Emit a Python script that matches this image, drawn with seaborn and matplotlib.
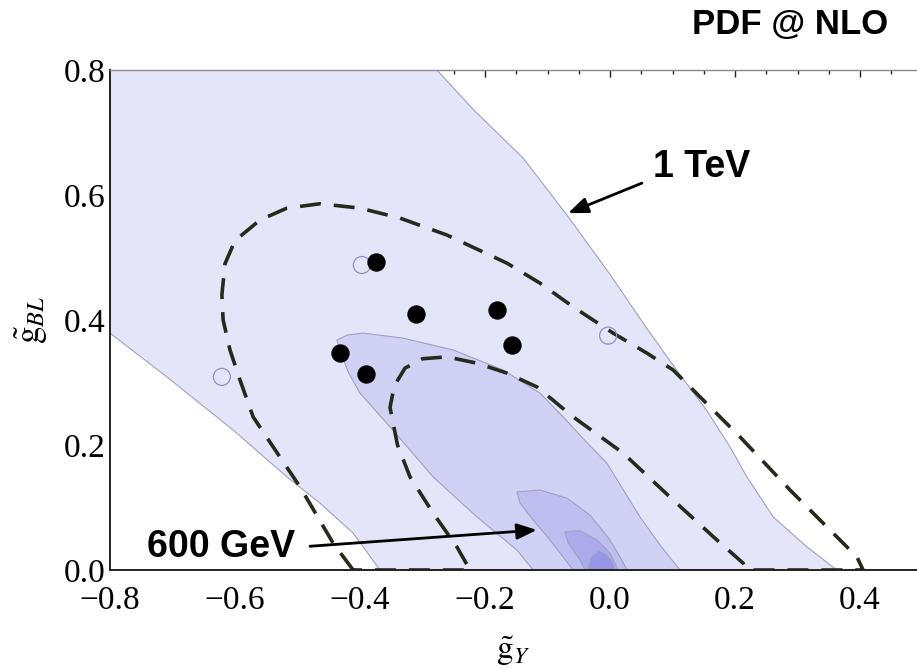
import numpy as np
import pandas as pd
import matplotlib
matplotlib.use('Agg')
import matplotlib.pyplot as plt
from matplotlib.ticker import MultipleLocator
import seaborn as sns

# ---------------- data ----------------
# outermost filled contour (1 TeV reach)
region1_x = [-0.8, -0.709, -0.603, -0.517, -0.464, -0.411, -0.368,
             0.363, 0.315, 0.261, 0.219, 0.192, 0.155, 0.105, 0.06, 0.0,
             -0.069, -0.139, -0.219, -0.277, -0.8]
region1_y = [0.379, 0.309, 0.224, 0.149, 0.107, 0.059, 0.0,
             0.0, 0.037, 0.085, 0.149, 0.197, 0.255, 0.322, 0.385, 0.473,
             0.568, 0.659, 0.737, 0.8, 0.8]
# second filled contour
region2_x = [-0.437, -0.42, -0.395, -0.331, -0.251, -0.171, -0.112, -0.075, -0.04,
             -0.005, 0.048, 0.08, 0.112, -0.123, -0.149, -0.213, -0.283, -0.352,
             -0.40, -0.418, -0.43]
region2_y = [0.368, 0.376, 0.379, 0.371, 0.352, 0.32, 0.283, 0.245, 0.207,
             0.171, 0.085, 0.04, 0.0, 0.0, 0.032, 0.085, 0.149, 0.229,
             0.283, 0.315, 0.345]
# third filled contour (600 GeV)
region3_x = [-0.149, -0.112, -0.069, -0.032, 0.0, 0.019, 0.027, -0.059, -0.096, -0.123, -0.144]
region3_y = [0.125, 0.128, 0.115, 0.088, 0.048, 0.016, 0.0, 0.0, 0.048, 0.08, 0.107]
# fourth filled contour
region4_x = [-0.072, -0.048, -0.021, 0.0, 0.013, -0.04, -0.048, -0.067]
region4_y = [0.061, 0.063, 0.048, 0.027, 0.0, 0.0, 0.016, 0.043]
# innermost filled contour
region5_x = [-0.035, -0.03, -0.018, -0.006, 0.004, 0.008]
region5_y = [0.0, 0.02, 0.03, 0.025, 0.012, 0.0]

# dashed contour band (outer edge then inner edge)
dash_outer_x = [-0.411, -0.443, -0.496, -0.539, -0.571, -0.592, -0.608, -0.619, -0.621,
                -0.616, -0.600, -0.56, -0.517, -0.464, -0.40, -0.336, -0.261, -0.165,
                -0.112, -0.059, 0.005, 0.059, 0.101, 0.128, 0.208, 0.288, 0.395, 0.405]
dash_outer_y = [0.0, 0.043, 0.133, 0.197, 0.245, 0.304, 0.352, 0.40, 0.44,
                0.49, 0.527, 0.56, 0.579, 0.586, 0.579, 0.563, 0.536, 0.491,
                0.459, 0.421, 0.379, 0.347, 0.32, 0.293, 0.213, 0.128, 0.021, 0.0]
dash_inner_x = [0.219, 0.213, 0.171, 0.101, 0.021, -0.059, -0.117, -0.165, -0.213,
                -0.261, -0.300, -0.328, -0.345, -0.352, -0.34, -0.32, -0.283, -0.245, -0.224]
dash_inner_y = [0.0, 0.011, 0.048, 0.112, 0.187, 0.245, 0.293, 0.315, 0.331,
                0.341, 0.338, 0.323, 0.295, 0.26, 0.2, 0.149, 0.091, 0.037, 0.0]

# benchmark points
filled_x = [-0.374, -0.310, -0.181, -0.157, -0.432, -0.390]
filled_y = [0.493, 0.410, 0.416, 0.360, 0.347, 0.314]
open_x = [-0.397, -0.003, -0.621]
open_y = [0.488, 0.375, 0.309]

x_ticks = [-0.8, -0.6, -0.4, -0.2, 0.0, 0.2, 0.4]
y_ticks = [0.0, 0.2, 0.4, 0.6, 0.8]
x_ticklabels = ['\u22120.8', '\u22120.6', '\u22120.4', '\u22120.2', '0.0', '0.2', '0.4']
y_ticklabels = ['0.0', '0.2', '0.4', '0.6', '0.8']

region_colors = ['#e5e5fa', '#d1d1f5', '#bebef0', '#ababec', '#9696e6']

# ---------------- figure ----------------
sns.set_theme(style='white')
plt.rcParams['font.family'] = ['Liberation Serif', 'DejaVu Serif']
plt.rcParams['mathtext.fontset'] = 'stix'
plt.rcParams['text.color'] = 'black'
plt.rcParams['axes.labelcolor'] = 'black'
plt.rcParams['xtick.color'] = 'black'
plt.rcParams['ytick.color'] = 'black'

fig = plt.figure(figsize=(9.17, 6.71), dpi=100)
ax = fig.add_axes([110/917, 101/671, 807/917, 500/671])
ax.set_facecolor('white')

edge = '#a0a0c0'
for rx, ry, c in zip([region1_x, region2_x, region3_x, region4_x, region5_x],
                     [region1_y, region2_y, region3_y, region4_y, region5_y],
                     region_colors):
    ax.fill(rx, ry, facecolor=c, edgecolor=edge, linewidth=0.8, zorder=1)

ring_x = dash_outer_x + dash_inner_x + [dash_outer_x[0]]
ring_y = dash_outer_y + dash_inner_y + [dash_outer_y[0]]
ax.plot(ring_x, ring_y, color='#252a1a', linewidth=2.6, dashes=(5.8, 3.6),
        zorder=3, dash_capstyle='butt', dash_joinstyle='round')

ax.scatter(open_x, open_y, s=150, facecolors='none', edgecolors='#8f8fc4',
           linewidths=0.9, zorder=4)
pts = pd.DataFrame({'x': filled_x, 'y': filled_y})
sns.scatterplot(data=pts, x='x', y='y', ax=ax, s=175, color='black',
                edgecolor='black', linewidth=0, zorder=5, legend=False)

arrow_kw = dict(arrowstyle='-|>,head_length=0.4,head_width=0.16', color='black',
                lw=2.0, mutation_scale=30, shrinkA=0, shrinkB=0)
ax.annotate('', xy=(-0.067, 0.571), xytext=(0.051, 0.619), arrowprops=arrow_kw, zorder=6)
ax.annotate('', xy=(-0.117, 0.064), xytext=(-0.48, 0.038), arrowprops=arrow_kw, zorder=6)

ax.text(0.069, 0.645, '1 TeV', fontsize=27, fontweight='bold', family='Liberation Sans',
        color='black', ha='left', va='center', zorder=7)
ax.text(-0.741, 0.037, '600 GeV', fontsize=27, fontweight='bold', family='Liberation Sans',
        color='black', ha='left', va='center', zorder=7)
fig.text(888/917, 1 - 24.5/671, 'PDF @ NLO', fontsize=25, fontweight='bold',
         family='Liberation Sans', color='black', ha='right', va='center')

ax.set_xlim(-0.8, 0.4912)
ax.set_ylim(0.0, 0.8)
ax.set_xticks(x_ticks)
ax.set_xticklabels(x_ticklabels)
ax.set_yticks(y_ticks)
ax.set_yticklabels(y_ticklabels)
ax.xaxis.set_minor_locator(MultipleLocator(0.05))
ax.yaxis.set_minor_locator(MultipleLocator(0.05))
ax.tick_params(which='both', direction='in', top=True, right=False, colors='#222222',
               labelcolor='black', labelsize=24, width=1.0)
ax.tick_params(which='major', length=5)
ax.tick_params(which='minor', length=3)
ax.tick_params(axis='x', pad=11)
ax.tick_params(axis='y', pad=3)
for t in ax.xaxis.get_major_ticks() + ax.xaxis.get_minor_ticks():
    t.tick2line.set_color('#888888')

for s in ['left', 'bottom']:
    ax.spines[s].set_color('#222222')
    ax.spines[s].set_linewidth(1.4)
ax.spines['top'].set_color('#888888')
ax.spines['top'].set_linewidth(1.0)
ax.spines['right'].set_visible(False)
for s in ax.spines.values():
    s.set_zorder(8)

ax.set_xlabel(r'$\tilde{\mathrm{g}}_{Y}$', fontsize=24, color='black')
ax.set_ylabel(r'$\tilde{\mathrm{g}}_{BL}$', fontsize=25, color='black')
ax.xaxis.set_label_coords(0.5, -0.128)
ax.yaxis.set_label_coords(-0.074, 0.5)

fig.savefig('out.png', dpi=100)
